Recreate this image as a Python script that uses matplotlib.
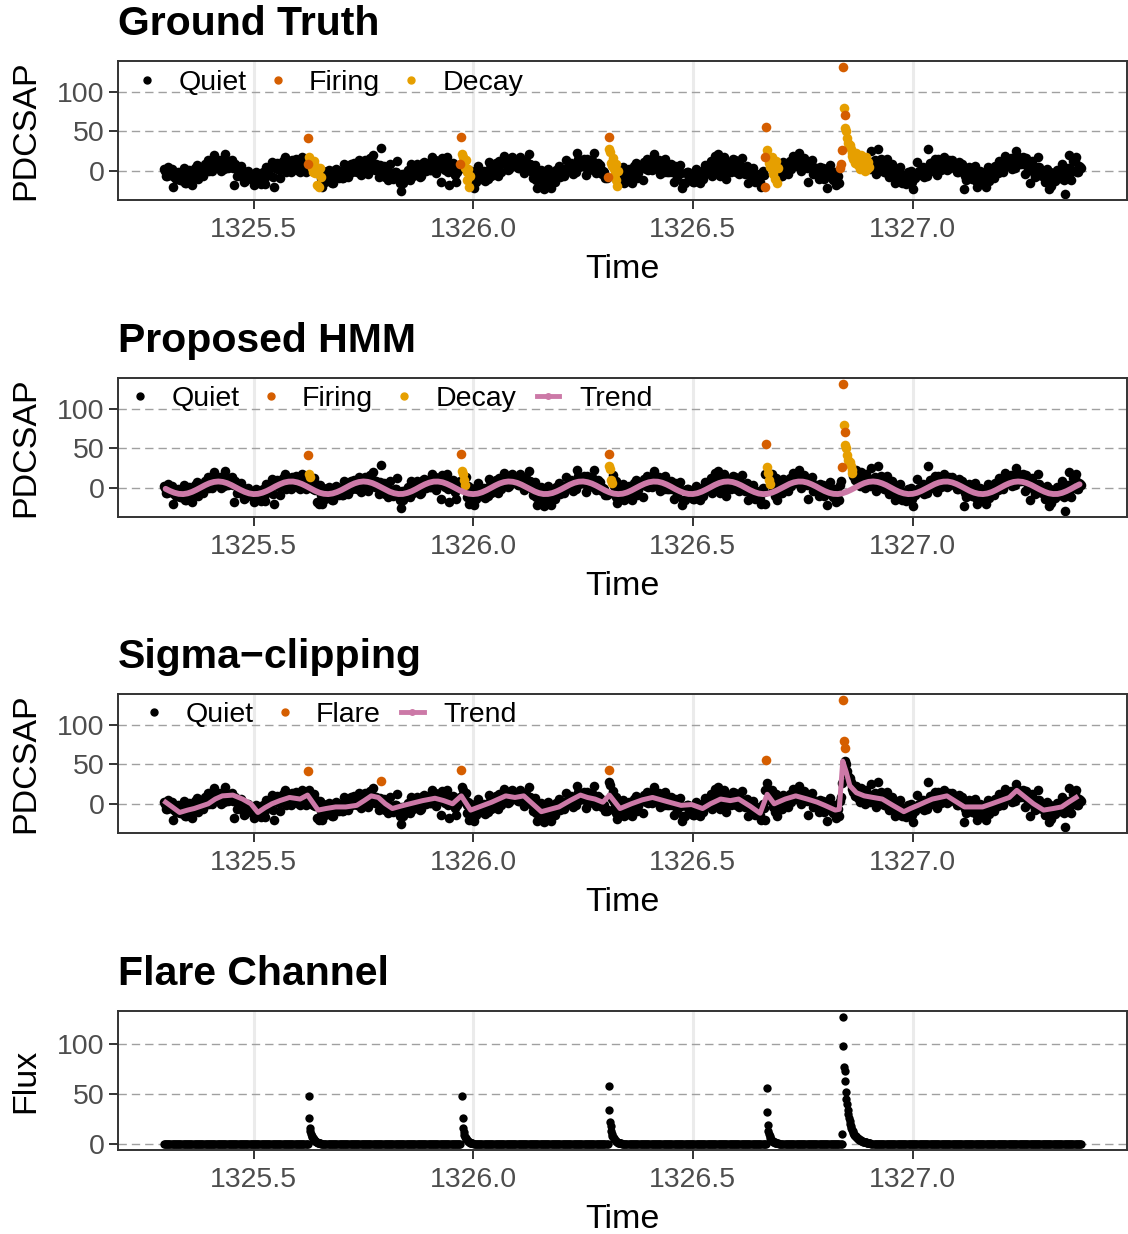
import numpy as np
import matplotlib
matplotlib.use("Agg")
import matplotlib.pyplot as plt
from matplotlib.lines import Line2D
from matplotlib.ticker import FormatStrFormatter

plt.rcParams['font.family'] = ['Liberation Sans', 'DejaVu Sans']
plt.rcParams['lines.scale_dashes'] = False

# light curve: two interleaved grids (0.005 d apart each)
t_start = 1325.296
t_start_b = 1325.2985
cadence = 0.005
flux = [
    2, -7, 5, -5, -20, -1, -11, -4, -12, 4, -15, -5, -7, -18, 3, 7, -5, 1, -6, 7,
    14, 3, 0, 20, 7, 13, 0, 12, 21, 4, 5, 14, -18, 3, -3, 6, -9, -13, -1, -8,
    -5, -18, -2, -12, -17, -1, -17, 3, -5, 11, -20, 4, 3, -9, 13, 17, 3, 9, -1, 12,
    15, 4, -2, 18, 1, 7, -11, 1, 7, -10, -8, 1, -20, -5, -8, 1, -11, -15, 1, -6,
    0, -9, 9, -1, -8, 8, 1, 8, -2, 14, -2, 8, 8, -4, 16, 20, 1, 7, -8, 5,
    6, -5, -12, 8, -8, -2, 12, -6, -26, -15, -9, 1, -12, 3, 0, 9, -3, -7, 10, 3,
    10, 1, 17, 7, -3, 13, -14, 14, 1, 17, -18, 4, -3, -14, 3, 7, -11, -5, -17, -4,
    0, -22, -14, 6, -7, -1, -13, -1, 11, -6, 1, 10, -7, 8, 10, 19, 6, 2, 16, 9,
    12, 3, 17, 7, -3, 13, 21, 7, -9, 7, -22, -5, -12, -23, -2, 2, -22, -6, -14, -1,
    6, -5, -6, 14, 3, 9, -4, 8, 23, 5, 6, 15, -5, 10, 5, 14, 23, -2, 6, -1,
    0, -9, 3, -7, -18, -2, -8, -1, -12, 5, -14, -4, -5, -16, 6, 10, -3, 4, -12, 9,
    15, 4, 1, 21, 7, 13, -4, 8, 15, -2, -1, 8, -14, 1, -2, 7, -22, -15, -2, -9,
    -5, -14, 2, -8, -16, 0, -2, 5, -3, 13, -4, 19, 21, -7, 14, 18, -10, 9, -2, 15,
    14, 3, -4, 16, -1, 5, -16, -1, 4, -14, -13, -4, -20, -5, -8, 1, -10, -14, 2, -5,
    2, -7, 11, 1, -4, 12, 10, 17, 6, 22, 0, 10, 5, -14, 10, 14, -3, 3, -10, 3,
    4, -7, -22, 7, -9, -3, -18, -6, 4, -13, -7, 2, -15, 1, 1, 10, -1, -5, 12, 5,
    11, 2, 25, 7, -4, 27, 6, 13, -1, 15, -8, 2, -5, -16, 1, 5, -15, -9, -17, -4,
    0, -23, -9, 11, -2, 4, -8, 4, 27, 0, 6, 15, -5, 10, 8, 17, 6, 2, 13, 6,
    8, -1, 11, 1, -23, -12, -4, 3, -10, 6, -21, -6, -6, -17, -21, 5, -8, -2, -9, 4,
    12, 1, -1, 19, 9, 15, 2, 14, 25, 9, 9, 18, -4, 11, -15, 13, -3, -7, 17, -3,
    -5, -14, 2, -23, -19, -3, -8, -1, -9, 8, -29, -2, 20, -12, 13, 17, -1, 5,
]
flux_b = [
    0, -7, -1, 2, -8, -11, -2, -12, -4, -15, -6, 1, -9, -6, 2, -11, 2, 0, 9, 0,
    0, 10, 6, 9, 4, 14, 9, 2, 14, 10, 12, 4, 8, -6, -2, -4, -14, -1, 0, -11,
    -7, -14, -8, -5, -8, -11, 5, -5, 3, -8, 3, 10, 1, 4, 12, -1, 10, 8, 14, 5,
    1, 11, 4, 7, -2, 8, -2, -9, 0, -4, -1, -9, 0, -14, -7, -9, -16, -3, 2, -9,
    -2, -9, 3, 6, 1, -2, 10, 0, 6, -5, 7, 14, 6, 9, 15, 2, 8, 6, 7, -2,
    -8, 2, -6, -3, -11, -1, -9, -16, -4, -8, -2, -10, 8, -6, 1, -1, -8, 6, 11, 0,
    8, 1, 11, 14, 6, 3, 16, 6, 9, -2, 3, 10, -5, -2, 2, -12, -4, -6, -2, -11,
    -14, -4, -8, -5, -10, 0, -4, -11, 4, 0, 8, 0, 13, -1, 11, 9, 1, 14, 17, 6,
    10, 3, 11, 14, 6, 3, 9, -1, -1, -12, -6, 1, -14, -11, -3, -16, -5, -7, 1, -8,
    -8, 2, 0, 3, 0, 10, 5, -2, 15, 11, 13, 5, 15, 1, 6, 4, -3, 10, 7, -4,
    -2, -9, -3, 0, -9, -12, 1, -9, -4, -15, -5, 2, -7, -4, 5, -9, 5, 3, 11, 2,
    1, 11, 7, 10, 4, 14, 5, -2, 8, 4, 6, -2, 6, -8, -1, -3, -16, -3, -1, -12,
    -7, -14, -4, -1, -7, -10, 7, -3, 5, -6, 5, 12, 2, 5, 13, 0, 10, 8, 13, 4,
    -1, 10, 2, 5, -4, 6, -4, -11, -4, -8, -6, -14, 0, -14, -7, -9, -15, -2, 3, -8,
    0, -7, 5, 8, 5, 2, 19, 9, 14, 3, 9, 16, 3, 6, 9, -4, 4, 2, 5, -4,
    -10, 0, -7, -4, -12, -2, -9, -16, -3, -7, 0, -8, 6, -9, 2, 0, -6, 7, 13, 2,
    9, 2, 11, 14, 5, 2, 15, 5, 7, -4, 1, 8, -7, -4, 0, -13, -8, -10, -2, -11,
    -14, -4, -3, 0, -5, 5, 1, -6, 10, 6, 13, 5, 15, 1, 9, 7, 1, 14, 14, 3,
    6, -1, 5, 8, -6, -9, 5, -5, -2, -13, -7, 0, -8, -5, 0, -13, -1, -3, 6, -3,
    -2, 8, 5, 8, 6, 16, 11, 4, 19, 15, 16, 8, 16, 2, 5, 3, -8, 5, 5, -6,
    -7, -14, -4, -1, -10, -13, 1, -9, 0, -12, -3, 4, -3, 1, 12, -1, 6, 4,
]

# HMM trend, one value per 0.01 d
hmm_t_start = 1325.30
hmm_step = 0.01
hmm_trend = [
    -1.3, -4.1, -6.3, -7.7, -8.0, -7.1, -5.2, -2.6, 0.4, 3.3,
    5.8, 7.4, 8.0, 7.4, 5.8, 3.3, 0.4, -2.6, -5.2, -7.1,
    -8.0, -7.7, -6.3, -4.1, -1.3, 1.8, 4.5, 6.7, 7.8, 7.9,
    6.8, 4.8, 2.1, -0.9, -3.8, -6.2, -7.6, -8.0, -7.2, -5.4,
    -2.9, 0.1, 3.1, 5.6, 7.3, 8.0, 7.5, 6.0, 3.6, 0.7,
    -2.3, -5.0, -6.9, -7.9, -7.8, -6.5, -4.4, -1.6, 1.5, 4.3,
    6.5, 7.8, 7.9, 7.0, 5.0, 2.4, -0.6, -3.5, -5.9, -7.5,
    -8.0, -7.4, -5.7, -3.2, -0.2, 2.8, 5.4, 7.2, 8.0, 7.6,
    6.2, 3.9, 1.0, -2.0, -4.7, -6.8, -7.9, -7.8, -6.7, -4.6,
    -1.9, 1.1, 4.0, 6.3, 7.7, 8.0, 7.1, 5.3, 2.7, -0.3,
    -3.3, -5.7, -7.4, -8.0, -7.5, -5.9, -3.4, -0.5, 2.5, 5.1,
    7.0, 7.9, 7.7, 6.4, 4.2, 1.4, -1.7, -4.4, -6.6, -7.8,
    -7.9, -6.9, -4.9, -2.2, 0.8, 3.7, 6.1, 7.6, 8.0, 7.3,
    5.5, 3.0, 0.0, -3.0, -5.5, -7.3, -8.0, -7.6, -6.1, -3.7,
    -0.8, 2.2, 4.9, 6.9, 7.9, 7.8, 6.6, 4.4, 1.7, -1.4,
    -4.2, -6.4, -7.7, -7.9, -7.0, -5.1, -2.5, 0.5, 3.4, 5.9,
    7.5, 8.0, 7.4, 5.7, 3.3, 0.3, -2.7, -5.3, -7.1, -8.0,
    -7.7, -6.3, -4.0, -1.1, 1.9, 4.6, 6.7, 7.8, 7.9, 6.8,
    4.7, 2.0, -1.0, -3.9, -6.2, -7.6, -8.0, -7.2, -5.4, -2.8,
    0.2, 3.2, 5.7, 7.4, 8.0, 7.5, 5.9, 3.5, 0.6, -2.4,
    -5.0, -7.0, -7.9, -7.8, -6.5, -4.3, -1.5, 1.6, 4.4,
]

# sigma-clipping running trend
sc_time = [
    1325.300, 1325.315, 1325.332, 1325.350, 1325.365, 1325.381, 1325.397, 1325.413,
    1325.429, 1325.453, 1325.475, 1325.494, 1325.510, 1325.526, 1325.542, 1325.560,
    1325.582, 1325.606, 1325.623, 1325.647, 1325.665, 1325.687, 1325.710, 1325.735,
    1325.752, 1325.768, 1325.784, 1325.800, 1325.816, 1325.835, 1325.856, 1325.885,
    1325.913, 1325.933, 1325.953, 1325.973, 1325.994, 1326.018, 1326.042, 1326.058,
    1326.074, 1326.095, 1326.115, 1326.135, 1326.155, 1326.175, 1326.195, 1326.220,
    1326.244, 1326.260, 1326.277, 1326.295, 1326.310, 1326.334, 1326.360, 1326.385,
    1326.408, 1326.440, 1326.473, 1326.497, 1326.522, 1326.540, 1326.563, 1326.585,
    1326.604, 1326.630, 1326.653, 1326.669, 1326.685, 1326.710, 1326.734, 1326.760,
    1326.783, 1326.800, 1326.824, 1326.833, 1326.841, 1326.849, 1326.857, 1326.872,
    1326.890, 1326.910, 1326.931, 1326.955, 1326.980, 1326.995, 1327.012, 1327.028,
    1327.045, 1327.062, 1327.078, 1327.098, 1327.118, 1327.140, 1327.159, 1327.180,
    1327.200, 1327.220, 1327.237, 1327.257, 1327.275, 1327.298, 1327.320, 1327.339,
    1327.355, 1327.372,
]
sc_trend = [
    2, -4, -11, -8, -6, -3, 0, 6,
    10, 11, 6, 0, -11, -5, 0, 4,
    8, 6, 11, -8, -6, -4, -4, -2,
    4, 10, 8, 0, -6, -3, 0, 4,
    7, 4, 0, 10, -8, -3, 2, 6,
    10, 8, 10, 0, -10, -7, -4, 4,
    11, 8, 6, 2, 11, -6, 0, 5,
    8, 3, -2, -1, -6, 0, 6, 4,
    6, -3, -12, 12, 0, 6, 10, 6,
    2, -2, -8, -7, 54, 40, 23, 14,
    10, 8, 6, -2, -10, -6, -2, 2,
    6, 8, 10, 3, -4, -4, -4, 0,
    4, 8, 17, 8, 0, -8, -6, -4,
    2, 8,
]

# flare windows: points here replace the regular grid
win_start = [1325.623, 1325.971, 1326.306, 1326.663, 1326.835, 1325.790]
win_step = 0.002
win_flux = [
    [8, 41, 18, 14, 10, 4, -2, 12, 2, -3, 5, -18, 0, -20, 3, -8],
    [8, 43, 21, 17, 10, 4, 14, -2, -12, 2, -21, -6],
    [-8, 43, 27, 24, 10, 6, 16, 2, -4, 8, -12, -19, 0],
    [-21, 17, 55, 26, 19, 10, 5, 15, 2, 17, -4, 8, -10, 12, -15, 4],
    [4, 8, 26, 131, 80, 70, 54, 50, 42, 35, 31, 33, 27, 19, 22, 15, 19,
     10, 23, 8, 17, 6, 12, 2, 20, 10, 4, 14, 0, 8, 18, 2, 11, 5],
    [29],
]
# Q = quiet, F = firing / flare, D = decay
state_truth = ["FFDDDDDDDDDDDDDD", "FFDDDDDDDDDD", "FFDDDDDDDDDDD",
               "FFFDDDDDDDDDDDDD", "FFFFDF" + "D" * 28, "Q"]
state_hmm = ["QFDDQQQQQQQQQQQQ", "QFDDDDQQQQQQ", "QFDDDDQQQQQQQ",
             "QQFDDDDQQQQQQQQQ", "QQFFDF" + "D" * 9 + "Q" * 19, "Q"]
state_sigma = ["QFQQQQQQQQQQQQQQ", "QFQQQQQQQQQQ", "QFQQQQQQQQQQQ",
               "QQFQQQQQQQQQQQQQ", "QQQFFF" + "Q" * 28, "F"]

# flare channel (2-min cadence tails, zero elsewhere)
tail_start = [1325.6255, 1325.9745, 1326.3085, 1326.6675, 1326.8396]
tail_step = 0.0014
tail_flux = [
    [48, 26, 16, 13, 10, 8, 6.5, 5.5, 4.5, 3.7, 3, 2.5, 2, 1.6, 1.3, 1, 0.8, 0.6, 0.4, 0.3],
    [48, 26, 16, 12, 9, 7, 5.5, 4.5, 3.6, 2.9, 2.3, 1.8, 1.4, 1.1, 0.8, 0.6, 0.4, 0.3],
    [58, 34, 22, 18, 13, 10, 8, 6.5, 5.3, 4.3, 3.5, 2.8, 2.2, 1.8, 1.4, 1.1, 0.9, 0.7,
     0.5, 0.4, 0.3],
    [56, 32, 19, 13, 10, 7.5, 6, 4.8, 3.8, 3, 2.4, 1.9, 1.5, 1.2, 0.9, 0.7, 0.5, 0.4, 0.3],
    [10, 127, 98, 77, 73, 63, 52, 45, 40, 34, 30, 26, 23, 20, 18, 16, 14, 12.5, 11, 10,
     9, 8.2, 7.4, 6.7, 6, 5.4, 4.9, 4.4, 4, 3.6, 3.2, 2.9, 2.6, 2.3, 2.1, 1.9, 1.7, 1.5,
     1.3, 1.2, 1.0, 0.9, 0.8, 0.7, 0.6, 0.5],
]

QUIET = 'black'
FIRING = '#D55E00'
DECAY = '#E69F00'
TREND = '#CC79A7'

# ---- assemble points
t_grid = np.concatenate([t_start + cadence * np.arange(len(flux)),
                         t_start_b + cadence * np.arange(len(flux_b))])
flux_all = np.array(flux + flux_b, dtype=float)
win_t = [s + win_step * np.arange(len(v)) for s, v in zip(win_start, win_flux)]
keep = np.ones(len(t_grid), bool)
for wt in win_t:
    keep &= ~((t_grid >= wt[0] - 1e-9) & (t_grid <= wt[-1] + 1e-9))
wt_all = np.concatenate(win_t)
wv_all = np.concatenate([np.array(v, float) for v in win_flux])
hmm_t = hmm_t_start + hmm_step * np.arange(len(hmm_trend))

tail_t = [s + tail_step * np.arange(len(v)) for s, v in zip(tail_start, tail_flux)]
keep4 = np.ones(len(t_grid), bool)
for tt in tail_t:
    keep4 &= ~((t_grid >= tt[0] - 0.001) & (t_grid <= tt[-1] + 0.001))

fig = plt.figure(figsize=(11.28, 12.34), dpi=100)
L, W, H = 118 / 1128, 1009 / 1128, 139 / 1234
bottoms = [1 - 200 / 1234, 1 - 517 / 1234, 1 - 833 / 1234, 1 - 1150 / 1234]
axes = [fig.add_axes([L, b, W, H]) for b in bottoms]


def style(ax, title, ylabel):
    ax.set_title(title, loc='left', fontsize=29.5, fontweight='bold', pad=19)
    ax.margins(x=0.05, y=0.05)
    ax.set_xticks([1325.5, 1326.0, 1326.5, 1327.0])
    ax.set_yticks([0, 50, 100])
    ax.xaxis.set_major_formatter(FormatStrFormatter('%.1f'))
    ax.tick_params(length=6.5, width=1.4, color='#333333', labelsize=20.5,
                   labelcolor='#4D4D4D', pad=3)
    ax.tick_params(axis='x', pad=6)
    for s in ax.spines.values():
        s.set_linewidth(1.4)
        s.set_color('#333333')
    ax.set_axisbelow(True)
    ax.xaxis.grid(True, color='#EBEBEB', linewidth=2.2)
    ax.yaxis.grid(True, color='#A0A0A0', linewidth=1.0, linestyle=(0, (6, 3.6)))
    ax.set_xlabel('Time', fontsize=24.5)
    ax.set_ylabel(ylabel, fontsize=24.5)
    ax.xaxis.set_label_coords(0.5, -0.385)
    ax.yaxis.set_label_coords(-0.076, 0.5)


def dot(color):
    return Line2D([], [], color=color, marker='o', linestyle='none', markersize=5)


def add_legend(ax, handles, labels, x0, y0):
    ax.legend(handles, labels, loc='center left', bbox_to_anchor=(x0, y0), ncol=len(labels),
              frameon=False, fontsize=20.5, borderpad=0, borderaxespad=0,
              handlelength=0.8, handletextpad=0.7, columnspacing=0.7)


def draw_states(ax, states, cmap):
    lab = np.array(list("".join(states)))
    ax.scatter(t_grid[keep], flux_all[keep], s=48, color=QUIET, linewidths=0, zorder=2)
    for code in ['Q', 'D', 'F']:
        m = lab == code
        if m.any():
            ax.scatter(wt_all[m], wv_all[m], s=48, color=cmap[code], linewidths=0, zorder=3)


# Ground truth
ax = axes[0]
draw_states(ax, state_truth, {'Q': QUIET, 'F': FIRING, 'D': DECAY})
style(ax, 'Ground Truth', 'PDCSAP')
add_legend(ax, [dot(QUIET), dot(FIRING), dot(DECAY)], ['Quiet', 'Firing', 'Decay'],
           0.0173, 0.845)

# Proposed HMM
ax = axes[1]
draw_states(ax, state_hmm, {'Q': QUIET, 'F': FIRING, 'D': DECAY})
ax.plot(hmm_t, hmm_trend, color=TREND, linewidth=4.2, zorder=5, solid_capstyle='round')
style(ax, 'Proposed HMM', 'PDCSAP')
trend_key = Line2D([], [], color=TREND, linewidth=3.5, marker='o', markersize=4)
add_legend(ax, [dot(QUIET), dot(FIRING), dot(DECAY), trend_key],
           ['Quiet', 'Firing', 'Decay', 'Trend'], 0.0104, 0.852)

# Sigma clipping
ax = axes[2]
draw_states(ax, state_sigma, {'Q': QUIET, 'F': FIRING, 'D': DECAY})
ax.plot(sc_time, sc_trend, color=TREND, linewidth=3.6, zorder=5, solid_joinstyle='round')
style(ax, 'Sigma\u2212clipping', 'PDCSAP')
add_legend(ax, [dot(QUIET), dot(FIRING), trend_key], ['Quiet', 'Flare', 'Trend'],
           0.0243, 0.852)

# Flare channel
ax = axes[3]
ax.scatter(t_grid[keep4], np.zeros(keep4.sum()), s=36, color='black', linewidths=0, zorder=2)
ax.scatter(np.concatenate(tail_t), np.concatenate([np.array(v, float) for v in tail_flux]),
           s=36, color='black', linewidths=0, zorder=2)
style(ax, 'Flare Channel', 'Flux')

fig.savefig('out.png', dpi=100)
